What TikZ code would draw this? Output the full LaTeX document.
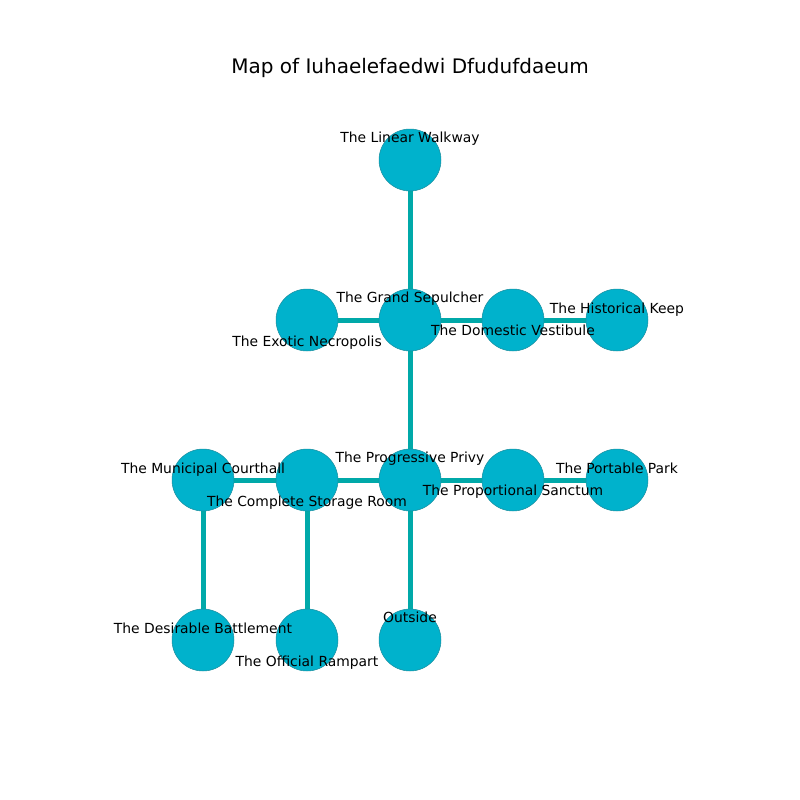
\documentclass[tikz,border=0pt]{standalone}
\usepackage{fontspec}
\setmainfont{DejaVu Sans}
\definecolor{nodefill}{HTML}{00B2CC}
\definecolor{nodeedge}{HTML}{1A8FA0}
\definecolor{edgecol}{HTML}{00A9A9}
\begin{document}
\begin{tikzpicture}[x=0.72pt,y=-0.72pt,
  room/.style={circle,fill=nodefill,draw=nodeedge,line width=0.4pt,minimum size=44.6pt,inner sep=0pt},
  link/.style={draw=edgecol,line width=3.6pt},
  lbl/.style={font=\fontsize{10}{12}\selectfont,inner sep=0pt,anchor=base,yshift=-4pt}]
\useasboundingbox (0,0) rectangle (800,800);
\node[font=\fontsize{14.4}{17}\selectfont,inner sep=0pt] (title) at (410,68) {Map of Iuhaelefaedwi Dfudufdaeum};
% coordinates for nodes
\coordinate (pLW) at (410,160);
\coordinate (pGS) at (410,320);
\coordinate (pEN) at (307,320);
\coordinate (pDV) at (513,320);
\coordinate (pHK) at (617,320);
\coordinate (pPP) at (410,480);
\coordinate (pCS) at (307,480);
\coordinate (pMC) at (203,480);
\coordinate (pPS) at (513,480);
\coordinate (pPK) at (617,480);
\coordinate (pDB) at (203,640);
\coordinate (pOR) at (307,640);
\coordinate (pOU) at (410,640);
% edges
\draw[link] (pLW) -- (pGS);
\draw[link] (pEN) -- (pGS);
\draw[link] (pGS) -- (pDV);
\draw[link] (pDV) -- (pHK);
\draw[link] (pGS) -- (pPP);
\draw[link] (pMC) -- (pCS);
\draw[link] (pCS) -- (pPP);
\draw[link] (pPP) -- (pPS);
\draw[link] (pPS) -- (pPK);
\draw[link] (pMC) -- (pDB);
\draw[link] (pCS) -- (pOR);
\draw[link] (pPP) -- (pOU);
% nodes
\node[room] (LW) at (pLW) {};
\node[room] (GS) at (pGS) {};
\node[room] (EN) at (pEN) {};
\node[room] (DV) at (pDV) {};
\node[room] (HK) at (pHK) {};
\node[room] (PP) at (pPP) {};
\node[room] (CS) at (pCS) {};
\node[room] (MC) at (pMC) {};
\node[room] (PS) at (pPS) {};
\node[room] (PK) at (pPK) {};
\node[room] (DB) at (pDB) {};
\node[room] (OR) at (pOR) {};
\node[room] (OU) at (pOU) {};
% labels
\node[lbl] (tLW) at (410,137) {The Linear Walkway};
\node[lbl] (tGS) at (410,297) {The Grand Sepulcher};
\node[lbl] (tEN) at (307,341) {The Exotic Necropolis};
\node[lbl] (tDV) at (513,330) {The Domestic Vestibule};
\node[lbl] (tHK) at (617,308) {The Historical Keep};
\node[lbl] (tPP) at (410,457) {The Progressive Privy};
\node[lbl] (tMC) at (203,468) {The Municipal Courthall};
\node[lbl] (tCS) at (307,501) {The Complete Storage Room};
\node[lbl] (tPS) at (513,490) {The Proportional Sanctum};
\node[lbl] (tPK) at (617,468) {The Portable Park};
\node[lbl] (tDB) at (203,628) {The Desirable Battlement};
\node[lbl] (tOR) at (307,661) {The Official Rampart};
\node[lbl] (tOU) at (410,617) {Outside};
\end{tikzpicture}
\end{document}
